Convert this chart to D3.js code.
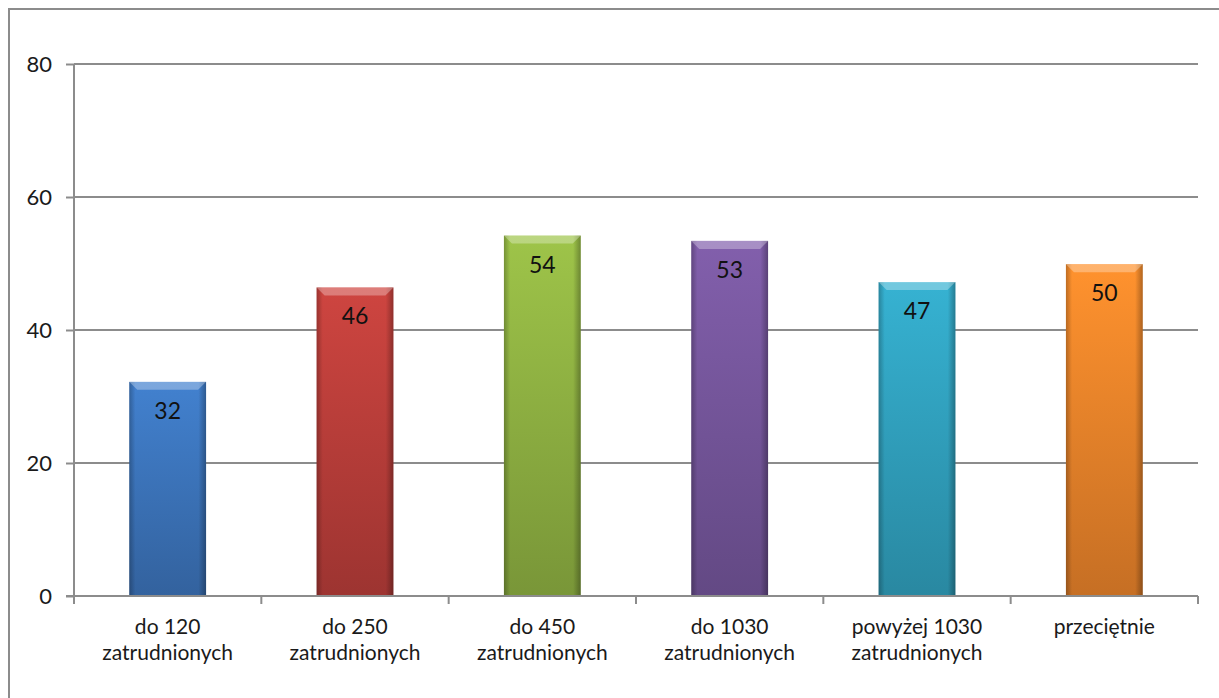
<!DOCTYPE html>
<html>
  <head>
    <meta charset="utf-8">
    <title>Bar chart</title>
    <script src="https://cdn.jsdelivr.net/npm/d3@7"></script>
    <style type="text/css">
      body {
        margin: 0;
        background: #fff;
        overflow: hidden;
      }
      text {
        font-family: Lato, "Open Sans", sans-serif;
        fill: #1a1a1a;
      }
      .grid line {
        stroke: #8c8c8c;
        stroke-width: 2px;
      }
      .frame {
        fill: none;
        stroke: #8c8c8c;
        stroke-width: 2px;
      }
    </style>
  </head>
<body>
  <div id="chart"></div>
  <script type="text/javascript">
    var categories = [
      ["do 120", "zatrudnionych"],
      ["do 250", "zatrudnionych"],
      ["do 450", "zatrudnionych"],
      ["do 1030", "zatrudnionych"],
      ["powyżej 1030", "zatrudnionych"],
      ["przeciętnie"]
    ];
    var values = [32.2, 46.4, 54.2, 53.4, 47.2, 49.9];
    var colors = ["#3f7ac4", "#c3413d", "#96ba45", "#7b5aa3", "#33a9c7", "#f58a2c"];
    var yTicks = [0, 20, 40, 60, 80];

    var width = 1219, height = 698;
    var margin = {top: 64, right: 21, bottom: 102, left: 74};

    var svg = d3.select("#chart").append("svg")
      .attr("width", width)
      .attr("height", height);

    // outer chart frame (right and bottom edges fall outside the picture)
    svg.append("rect")
      .attr("class", "frame")
      .attr("x", 9).attr("y", 9)
      .attr("width", 1230).attr("height", 720);

    var x = d3.scaleBand()
      .domain(d3.range(categories.length))
      .range([margin.left, width - margin.right])
      .paddingInner(0.59)
      .paddingOuter(0.295);

    var y = d3.scaleLinear()
      .domain([0, 80])
      .range([height - margin.bottom, margin.top]);

    var defs = svg.append("defs");

    colors.forEach(function (c, i) {
      var base = d3.color(c);
      var g = defs.append("linearGradient")
        .attr("id", "vg" + i)
        .attr("x1", 0).attr("y1", 0).attr("x2", 0).attr("y2", 1);
      g.append("stop").attr("offset", "0%").attr("stop-color", base.brighter(0.15));
      g.append("stop").attr("offset", "100%").attr("stop-color", base.darker(0.6));
    });

    var hg = defs.append("linearGradient")
      .attr("id", "edge")
      .attr("x1", 0).attr("y1", 0).attr("x2", 1).attr("y2", 0);
    hg.append("stop").attr("offset", "0%").attr("stop-color", "#000").attr("stop-opacity", 0.25);
    hg.append("stop").attr("offset", "8%").attr("stop-color", "#000").attr("stop-opacity", 0);
    hg.append("stop").attr("offset", "90%").attr("stop-color", "#000").attr("stop-opacity", 0);
    hg.append("stop").attr("offset", "100%").attr("stop-color", "#000").attr("stop-opacity", 0.3);

    // gridlines
    svg.append("g")
      .attr("class", "grid")
      .selectAll("line")
      .data(yTicks.filter(function (d) { return d > 0; }))
      .join("line")
      .attr("x1", margin.left)
      .attr("x2", width - margin.right)
      .attr("y1", function (d) { return y(d); })
      .attr("y2", function (d) { return y(d); });

    // bars
    var bars = svg.append("g")
      .selectAll("g")
      .data(values)
      .join("g");

    bars.append("rect")
      .attr("x", function (d, i) { return x(i); })
      .attr("y", function (d) { return y(d); })
      .attr("width", x.bandwidth())
      .attr("height", function (d) { return y(0) - y(d); })
      .attr("fill", function (d, i) { return "url(#vg" + i + ")"; });

    bars.append("rect")
      .attr("x", function (d, i) { return x(i); })
      .attr("y", function (d) { return y(d); })
      .attr("width", x.bandwidth())
      .attr("height", function (d) { return y(0) - y(d); })
      .attr("fill", "url(#edge)");

    // bevel on top
    var bev = 8;
    bars.append("path")
      .attr("d", function (d, i) {
        var x0 = x(i), x1 = x(i) + x.bandwidth(), t = y(d);
        return "M" + x0 + "," + t + "L" + x1 + "," + t +
          "L" + (x1 - bev) + "," + (t + bev) + "L" + (x0 + bev) + "," + (t + bev) + "Z";
      })
      .attr("fill", "#fff")
      .attr("fill-opacity", 0.3);

    bars.append("text")
      .attr("x", function (d, i) { return x(i) + x.bandwidth() / 2; })
      .attr("y", function (d) { return y(d) + 37; })
      .attr("text-anchor", "middle")
      .style("font-size", "23px")
      .style("fill", "#111")
      .text(function (d) { return d3.format(".0f")(d); });

    // y axis
    var yAxis = svg.append("g")
      .attr("transform", "translate(" + margin.left + ",0)")
      .call(d3.axisLeft(y).tickValues(yTicks).tickSize(8).tickPadding(14));
    yAxis.selectAll("path, line").attr("stroke", "#8c8c8c").attr("stroke-width", 2);
    yAxis.select(".domain").attr("d", "M0," + y(80) + "V" + y(0));
    yAxis.selectAll("text").style("font-size", "22px").style("font-family", "Lato, sans-serif").attr("fill", "#1a1a1a");

    // x axis with ticks between categories
    var xAxisG = svg.append("g")
      .attr("transform", "translate(0," + y(0) + ")");
    xAxisG.append("line")
      .attr("x1", margin.left - 8).attr("x2", width - margin.right)
      .attr("stroke", "#8c8c8c").attr("stroke-width", 2);
    var step = x.step();
    xAxisG.selectAll(".xt")
      .data(d3.range(categories.length + 1))
      .join("line")
      .attr("class", "xt")
      .attr("x1", function (i) { return margin.left + i * step; })
      .attr("x2", function (i) { return margin.left + i * step; })
      .attr("y1", 0).attr("y2", 8)
      .attr("stroke", "#8c8c8c").attr("stroke-width", 2);

    var labels = xAxisG.selectAll(".xl")
      .data(categories)
      .join("text")
      .attr("class", "xl")
      .attr("text-anchor", "middle")
      .attr("transform", function (d, i) { return "translate(" + (x(i) + x.bandwidth() / 2) + ",38)"; })
      .style("font-size", "21px");
    labels.selectAll("tspan")
      .data(function (d) { return d; })
      .join("tspan")
      .attr("x", 0)
      .attr("dy", function (d, j) { return j === 0 ? 0 : 26; })
      .text(function (d) { return d; });
  </script>
</body>
</html>
